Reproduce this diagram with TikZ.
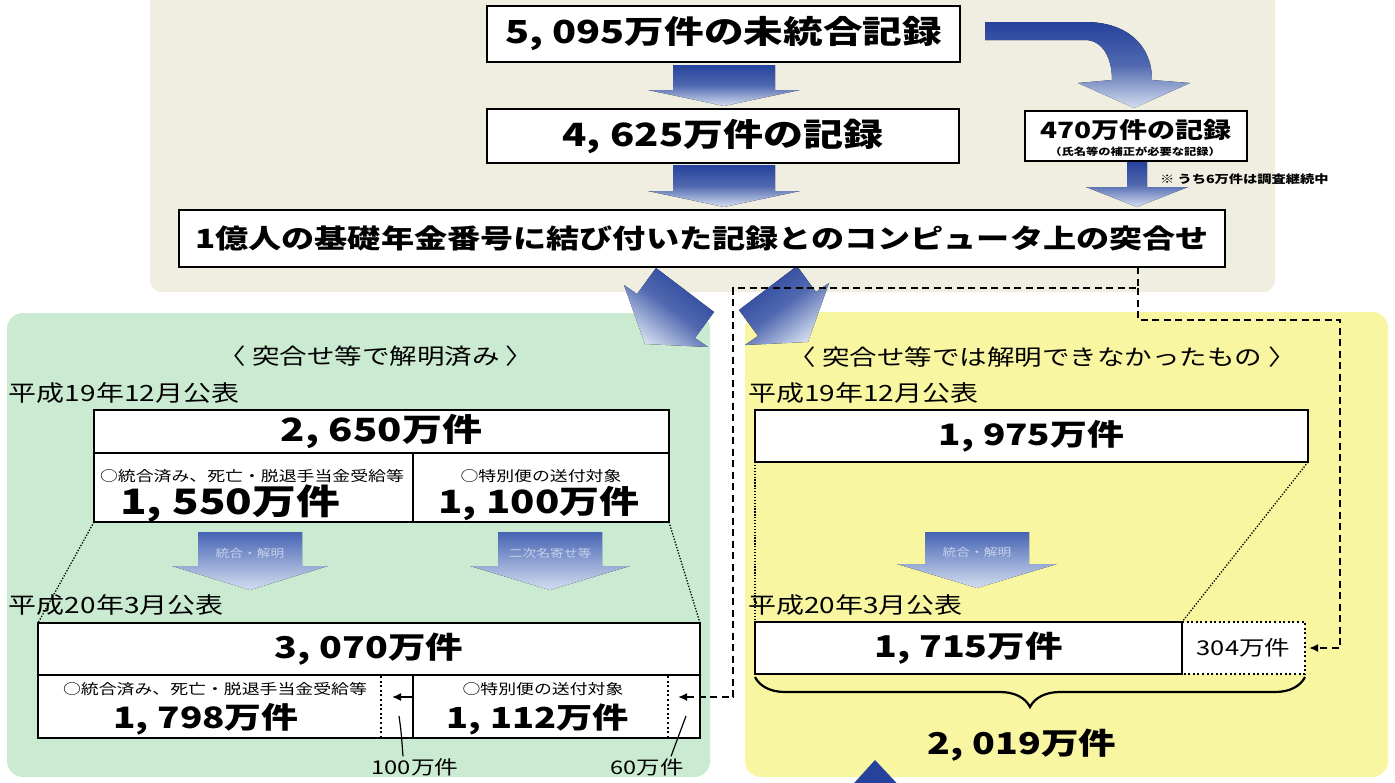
\documentclass[tikz,border=0pt]{standalone}
\usepackage{fontspec}
\setmainfont{Noto Sans CJK JP}[FakeStretch=1.25]
\usetikzlibrary{decorations.pathreplacing,arrows.meta,calc}
\definecolor{bgbeige}{RGB}{240,238,224}
\definecolor{bggreen}{RGB}{203,234,210}
\definecolor{bgyellow}{RGB}{248,246,160}
\definecolor{adark}{RGB}{38,66,155}
\definecolor{amid}{RGB}{70,100,180}
\definecolor{alight}{RGB}{212,222,240}
\newcommand{\fsz}[1]{\fontsize{#1}{#1}\selectfont}
\newcommand{\cmm}{,\hspace{0.3em}}
\begin{document}
\begin{tikzpicture}[x=1pt,y=-1pt,
 cell/.style={draw=black, line width=2.4pt, fill=white, inner sep=0pt, outer sep=0pt},
 barrow/.style={top color=adark, bottom color=alight, middle color=adark!75!alight, draw=none},
 sarrow/.style={top color=amid, bottom color=alight, draw=none},
 dashln/.style={line width=1.8pt, dash pattern=on 7pt off 4.5pt},
 dotln/.style={line width=1.3pt, dash pattern=on 1.3pt off 1.6pt},
 dotbox/.style={line width=2.2pt, dash pattern=on 2pt off 2.6pt},
 tipa/.style={-{Latex[length=9pt,width=8pt]}},
 txt/.style={inner sep=0pt, outer sep=0pt},
]
\clip (0,0) rectangle (1395,782);
\fill[white] (0,0) rectangle (1395,782);
% backgrounds
\fill[bgbeige, rounded corners=12pt] (150,-10) rectangle (1275,292);
\fill[bggreen, rounded corners=16pt] (7,313) rectangle (710,777);
\fill[bgyellow, rounded corners=16pt] (745,312) rectangle (1388,777);
% diagonal arrows
\fill[barrow, shading angle=-37] (656,268) -- (714,312) -- (695,338) -- (708,347) -- (645,344) -- (624,285) -- (637,294) -- cycle;
\fill[barrow, shading angle=37] (797,266) -- (816,292) -- (829,283) -- (808,342) -- (745,345) -- (758,336) -- (739,310) -- cycle;
% top vertical arrows
\fill[barrow] (673,65) -- (775,65) -- (775,90) -- (800,90) -- (724,106) -- (648,90) -- (673,90) -- cycle;
\fill[barrow] (673,165) -- (775,165) -- (775,191) -- (800,191) -- (724,207) -- (648,191) -- (673,191) -- cycle;
% curved arrow
\fill[barrow] (985,22) -- (1085,22) .. controls (1127,22) and (1152,45) .. (1152,80) -- (1190,83) -- (1134,108) -- (1078,83) -- (1112,80) .. controls (1112,57) and (1102,40) .. (1085,40) -- (985,40) -- cycle;
% small arrow below 470
\fill[barrow] (1127,162) -- (1147,162) -- (1147,187) -- (1188,187) -- (1137,207) -- (1086,187) -- (1127,187) -- cycle;
% top boxes
\node[cell, line width=2.6pt, minimum width=473pt, minimum height=56pt, font=\bfseries\fsz{31.7}] (n5095) at (723.5,34) {5\cmm 095万件の未統合記録};
\node[cell, minimum width=472pt, minimum height=54pt, font=\bfseries\fsz{32}] (n4625) at (723,136) {4\cmm 625万件の記録};
\node[cell, minimum width=1046pt, minimum height=57pt, font=\bfseries\fsz{26.5}] (n1oku) at (702,238.5) {1億人の基礎年金番号に結び付いた記録とのコンピュータ上の突合せ};
\node[cell, line width=2pt, minimum width=222pt, minimum height=50pt] (n470) at (1136,136) {};
\node[txt, font=\bfseries\fsz{22.4}] (t470) at (1136,130) {470万件の記録};
\node[txt, font=\bfseries\fsz{9.8}] (t470s) at (1135,152) {（氏名等の補正が必要な記録）};
\node[txt, font=\bfseries\fsz{11.4}, anchor=west] (tnote) at (1160,179) {※ うち6万件は調査継続中};
% panel titles
\node[txt, font=\fsz{22}] (ttl) at (376,356) {〈 突合せ等で解明済み 〉};
\node[txt, font=\fsz{22}] (ttr) at (1042,357) {〈 突合せ等では解明できなかったもの 〉};
\node[txt, font=\fsz{22.4}, anchor=west] (h19l) at (9,393) {平成19年12月公表};
\node[txt, font=\fsz{22.4}, anchor=west] (h20l) at (9,605) {平成20年3月公表};
\node[txt, font=\fsz{22.4}, anchor=west] (h19r) at (748,393) {平成19年12月公表};
\node[txt, font=\fsz{22.4}, anchor=west] (h20r) at (748,605) {平成20年3月公表};
% left 2007 box
\node[cell, minimum width=575pt, minimum height=43pt, font=\bfseries\fsz{32}] (c2650) at (381.5,431.5) {2\cmm 650万件};
\node[cell, minimum width=319pt, minimum height=69pt] (c1550) at (253.5,487.5) {};
\node[cell, minimum width=256pt, minimum height=69pt] (c1100) at (541,487.5) {};
\node[txt, font=\fsz{14.3}] (l1550) at (252,476) {○統合済み、死亡・脱退手当金受給等};
\node[txt, font=\bfseries\fsz{35}] (v1550) at (230,504) {1\cmm 550万件};
\node[txt, font=\fsz{14.3}] (l1100) at (541,476) {○特別便の送付対象};
\node[txt, font=\bfseries\fsz{32}] (v1100) at (539,504) {1\cmm 100万件};
% left small arrows
\fill[sarrow] (198,532) -- (302,532) -- (302,566) -- (328,566) -- (250,590) -- (172,566) -- (198,566) -- cycle;
\fill[sarrow] (498,532) -- (602,532) -- (602,566) -- (630,566) -- (550,590) -- (470,566) -- (498,566) -- cycle;
\node[txt, font=\fsz{11}, text=white!70!amid] (a1) at (250,553) {統合・解明};
\node[txt, font=\fsz{11}, text=white!70!amid] (a2) at (550,553) {二次名寄せ等};
% left 2008 box
\node[cell, minimum width=662pt, minimum height=52pt, font=\bfseries\fsz{30}] (c3070) at (369,649) {3\cmm 070万件};
\node[cell, minimum width=375pt, minimum height=63pt] (c1798) at (225.5,706.5) {};
\node[cell, minimum width=287pt, minimum height=63pt] (c1112) at (556.5,706.5) {};
\node[txt, font=\fsz{14.3}] (l1798) at (215,689) {○統合済み、死亡・脱退手当金受給等};
\node[txt, font=\bfseries\fsz{29.5}] (v1798) at (206,719) {1\cmm 798万件};
\node[txt, font=\fsz{14.3}] (l1112) at (543,689) {○特別便の送付対象};
\node[txt, font=\bfseries\fsz{29}] (v1112) at (538,719) {1\cmm 112万件};
\draw[dotbox] (381,676) -- (381,737);
\draw[dotbox] (668,676) -- (668,737);
\draw[tipa, line width=1.5pt] (c1112.west |- 0,697) -- (392,697);
\node[txt, font=\fsz{19}] (l100) at (415,767) {100万件};
\node[txt, font=\fsz{18.8}] (l60) at (647,767) {60万件};
\coordinate (p100) at (399,716);
\coordinate (p60) at (686,716);
\draw[line width=1.2pt] (p100) .. controls (401,730) .. ($(l100.north)+(-12,-2)$);
\draw[line width=1.2pt] (p60) -- ($(l60.north)+(24,-2)$);
% dotted projection lines left
\draw[dotln] (c1550.south west) -- (c1798.north west |- c3070.north);
\draw[dotln] (c1100.south east) -- (c3070.north east);
% right panel
\node[cell, minimum width=553pt, minimum height=52pt, font=\bfseries\fsz{29.5}] (c1975) at (1031.5,436) {1\cmm 975万件};
\fill[sarrow] (925,532) -- (1029,532) -- (1029,564) -- (1057,564) -- (977,588) -- (897,564) -- (925,564) -- cycle;
\node[txt, font=\fsz{11}, text=white!70!amid] (a3) at (977,552) {統合・解明};
\node[inner sep=0pt, outer sep=0pt, minimum width=123pt, minimum height=52pt, fill=white, font=\fsz{20.4}] (c304) at (1243.5,648) {304万件};
\draw[dotbox] (c304.north west) -- (c304.north east) -- (c304.south east) -- (c304.south west);
\node[cell, minimum width=427pt, minimum height=52pt, font=\bfseries\fsz{30}] (c1715) at (968.5,648) {1\cmm 715万件};
\draw[dotln] (c1975.south west) -- (c1715.north west);
\draw[dotln] (c1975.south east) -- (c1715.north east);
\draw[decorate, decoration={brace, mirror, amplitude=30pt, raise=3pt}, line width=2.2pt] (c1715.south west) -- (c304.south east);
\node[txt, font=\bfseries\fsz{30}] (v2019) at (1022,745) {2\cmm 019万件};
% dashed connectors
\coordinate (dA) at (1138,0);
\coordinate (dB) at (1138,288);
\coordinate (dC) at (1138,320);
\draw[dashln, tipa] (n1oku.south -| dA) -- (dB) -- (733,288) -- (733,697) -- (678,697);
\draw[dashln, tipa] (dB) -- (dC) -- (1340,320) -- (1340,648) -- ($(c304.east)+(4,0)$);
% bottom blue arrow tip
\fill[adark] (875,760) -- (905,792) -- (846,792) -- cycle;
\end{tikzpicture}
\end{document}
